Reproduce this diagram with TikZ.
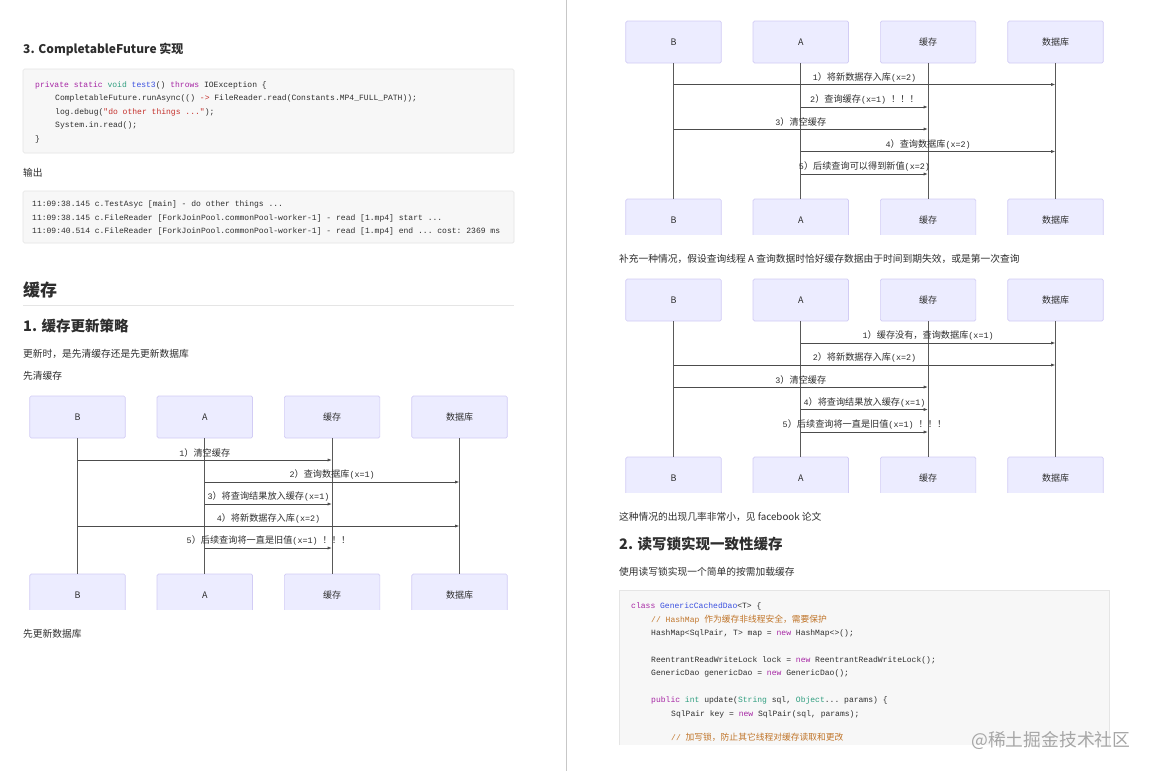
\documentclass[tikz,border=0pt]{standalone}
\usepackage{fontspec}
\usepackage{xcolor}
\usetikzlibrary{arrows.meta}
\setmainfont{Noto Sans CJK SC}
\setmonofont{Liberation Mono}
\newfontfamily\zhfont[Scale=1.09]{Noto Sans CJK SC}
\newfontfamily\wmfont{Noto Sans CJK SC}
\newcommand{\zh}[1]{{\zhfont #1}}
\newcommand{\bangs}{\hspace{5pt}\zh{！！！}}
\definecolor{ink}{HTML}{2E2E2E}
\definecolor{kwd}{HTML}{A626A4}
\definecolor{typ}{HTML}{2F9E7F}
\definecolor{fun}{HTML}{3A50E0}
\definecolor{strc}{HTML}{C4302B}
\definecolor{cmt}{HTML}{C0752A}
\definecolor{actorfill}{HTML}{ECECFF}
\definecolor{actorline}{HTML}{D2CCF5}
\tikzset{
	actor/.style={draw=actorline,fill=actorfill,rounded corners=1.5pt,line width=.7pt,minimum width=95.5pt,minimum height=42pt,inner sep=0pt,text=ink,font=\fontsize{9}{10}\selectfont},
	lifeline/.style={draw=black!65,line width=1pt},
	msgline/.style={draw=black!70,line width=.9pt,-{Latex[length=4.5pt,width=3.2pt]}},
	msglabel/.style={above=2pt,inner sep=0pt,text=ink,font=\ttfamily\fontsize{8.4}{10}\selectfont},
	para/.style={anchor=west,inner sep=0pt,text=ink,font=\fontsize{9.75}{12}\selectfont},
	headb/.style={anchor=west,inner sep=0pt,text=ink,font=\bfseries\fontsize{14.5}{17}\selectfont},
	codeblock/.style={fill=black!3,draw=black!10,rounded corners=1.5pt,line width=.7pt},
	codeline/.style={anchor=west,inner sep=0pt,text=ink,font=\ttfamily\fontsize{8.04}{10}\selectfont},
}
% head and foot boxes of one diagram, with the lines between them
\newcommand{\actors}[3]{
	\foreach \key/\dx/\txt in {b/0/B,a/127.3/A,c/254.6/缓存,d/382/数据库}{
		\node[actor] (#1\key t) at (#2+\dx,#3+21) {\txt};
		\begin{scope}
			\clip (#2+\dx-50,#3+174) rectangle (#2+\dx+50,#3+213);
			\node[actor] (#1\key f) at (#2+\dx,#3+199) {\txt};
		\end{scope}
		\draw[lifeline] (#1\key t) -- (#1\key f);
	}
}
\newcommand{\msg}[4]{\draw[msgline] (#1 |- 0,#3) -- node[msglabel]{#4} (#2 |- 0,#3);}
\begin{document}
\begin{tikzpicture}[x=1pt,y=-1pt]
	\useasboundingbox (0,0) rectangle (1152,771);
	\fill[white] (0,0) rectangle (1152,771);
	\draw[black!22,line width=.8pt] (566.5,0)--(566.5,771);

	% left page
	\node[headb,font=\bfseries\fontsize{12}{15}\selectfont] (h3) at (23,50) {3. CompletableFuture 实现};
	\draw[codeblock] (23,69) rectangle (514,153);
	\node[codeline] (c1) at (35,85) {\textcolor{kwd}{private static} \textcolor{typ}{void} \textcolor{fun}{test3}() \textcolor{kwd}{throws} IOException \{};
	\node[codeline] (c2) at (55,98.5) {CompletableFuture.runAsync(() \textcolor{strc}{->} FileReader.read(Constants.MP4\_FULL\_PATH));};
	\node[codeline] (c3) at (55,112) {log.debug(\textcolor{strc}{"do other things ..."});};
	\node[codeline] (c4) at (55,125.5) {System.in.read();};
	\node[codeline] (c5) at (35,139) {\}};
	\node[para] (out) at (23,173) {输出};
	\draw[codeblock] (23,191) rectangle (514,243);
	\node[codeline] (o1) at (32,204.5) {11:09:38.145 c.TestAsyc [main] - do other things ...};
	\node[codeline] (o2) at (32,218) {11:09:38.145 c.FileReader [ForkJoinPool.commonPool-worker-1] - read [1.mp4] start ...};
	\node[codeline] (o3) at (32,231) {11:09:40.514 c.FileReader [ForkJoinPool.commonPool-worker-1] - read [1.mp4] end ... cost: 2369 ms};
	\node[headb,font=\bfseries\fontsize{17}{20}\selectfont] (h1) at (23,290) {缓存};
	\draw[black!10,line width=.7pt] (23,305.5)--(514,305.5);
	\node[headb] (h2) at (23,326) {1. 缓存更新策略};
	\node[para] (p1) at (23,353.5) {更新时，是先清缓存还是先更新数据库};
	\node[para] (p2) at (23,375.5) {先清缓存};

	\actors{p}{77.5}{396}
	\msg{pbt}{pct}{460}{1\zh{）清空缓存}}
	\msg{pat}{pdt}{482}{2\zh{）查询数据库}(x=1)}
	\msg{pat}{pct}{504}{3\zh{）将查询结果放入缓存}(x=1)}
	\msg{pbt}{pdt}{526}{4\zh{）将新数据存入库}(x=2)}
	\msg{pat}{pct}{548}{5\zh{）后续查询将一直是旧值}(x=1)\bangs}
	\node[para] (p3) at (23,633.5) {先更新数据库};

	% right page
	\actors{q}{673.5}{21}
	\msg{qbt}{qdt}{84.5}{1\zh{）将新数据存入库}(x=2)}
	\msg{qat}{qct}{107}{2\zh{）查询缓存}(x=1)\bangs}
	\msg{qbt}{qct}{129}{3\zh{）清空缓存}}
	\msg{qat}{qdt}{151.5}{4\zh{）查询数据库}(x=2)}
	\msg{qat}{qct}{174}{5\zh{）后续查询可以得到新值}(x=2)}
	\node[para] (p4) at (619,258.5) {补充一种情况，假设查询线程 A 查询数据时恰好缓存数据由于时间到期失效，或是第一次查询};

	\actors{r}{673.5}{279}
	\msg{rat}{rdt}{343}{1\zh{）缓存没有，查询数据库}(x=1)}
	\msg{rbt}{rdt}{365}{2\zh{）将新数据存入库}(x=2)}
	\msg{rbt}{rct}{387}{3\zh{）清空缓存}}
	\msg{rat}{rct}{409.5}{4\zh{）将查询结果放入缓存}(x=1)}
	\msg{rat}{rct}{432}{5\zh{）后续查询将一直是旧值}(x=1)\bangs}
	\node[para] (p5) at (619,516.5) {这种情况的出现几率非常小，见 facebook 论文};
	\node[headb] (h4) at (619,544) {2. 读写锁实现一致性缓存};
	\node[para] (p6) at (619,571.5) {使用读写锁实现一个简单的按需加载缓存};

	\fill[black!3] (619,590) rectangle (1109,745);
	\draw[black!10,line width=.7pt] (619,745)--(619,590)--(1109,590)--(1109,745);
	\node[codeline] (g1) at (631,606) {\textcolor{kwd}{class} \textcolor{fun}{GenericCachedDao}<T> \{};
	\node[codeline,text=cmt] (g2) at (651,619.5) {// HashMap \zh{作为缓存非线程安全，需要保护}};
	\node[codeline] (g3) at (651,633) {HashMap<SqlPair, T> map = \textcolor{kwd}{new} HashMap<>();};
	\node[codeline] (g4) at (651,660) {ReentrantReadWriteLock lock = \textcolor{kwd}{new} ReentrantReadWriteLock();};
	\node[codeline] (g5) at (651,673.5) {GenericDao genericDao = \textcolor{kwd}{new} GenericDao();};
	\node[codeline] (g6) at (651,700) {\textcolor{kwd}{public} \textcolor{typ}{int} update(\textcolor{typ}{String} sql, \textcolor{typ}{Object}... params) \{};
	\node[codeline] (g7) at (671,714) {SqlPair key = \textcolor{kwd}{new} SqlPair(sql, params);};
	\node[codeline,text=cmt] (g8) at (671,737) {// \zh{加写锁，防止其它线程对缓存读取和更改}};
	\node[anchor=west,inner sep=0pt,text=black!35,font=\wmfont\fontsize{17.8}{20}\selectfont] (wm) at (971,740) {@稀土掘金技术社区};
\end{tikzpicture}
\end{document}
